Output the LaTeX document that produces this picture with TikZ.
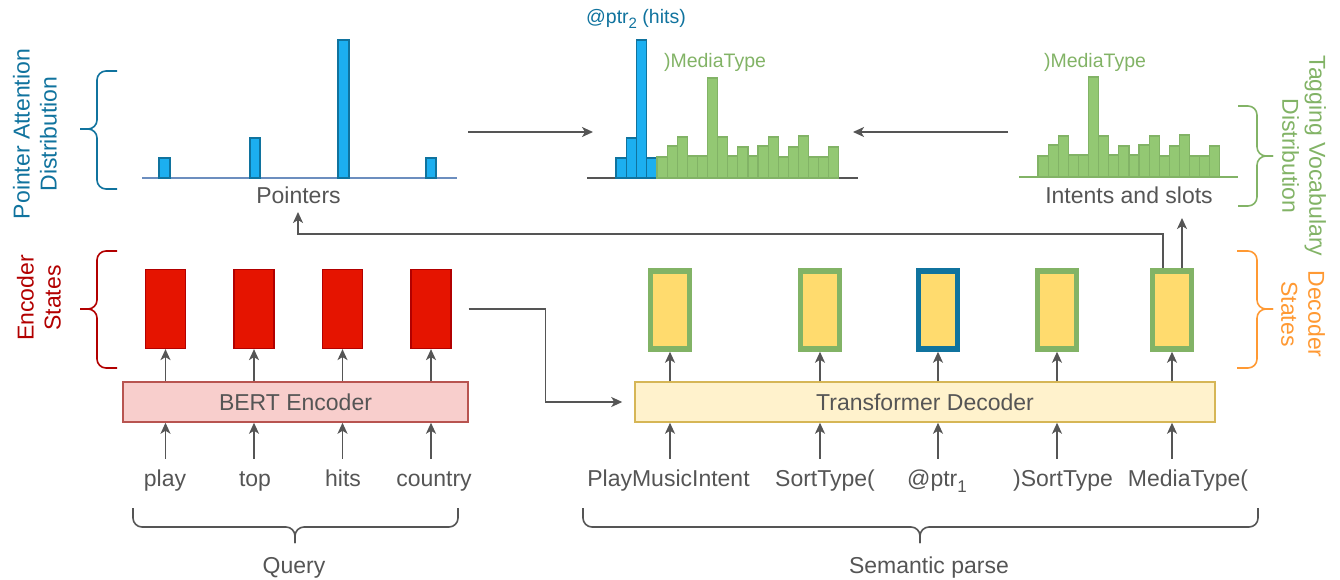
\documentclass[tikz,border=0pt]{standalone}
\usepackage{fontspec}
\setmainfont{Liberation Sans}
\usetikzlibrary{arrows.meta}
\definecolor{txt}{HTML}{555555}
\definecolor{ptrc}{HTML}{10739E}
\definecolor{barf}{HTML}{1CAFF0}
\definecolor{gr}{HTML}{82B366}
\definecolor{grf}{HTML}{93C873}
\definecolor{encf}{HTML}{E51400}
\definecolor{encb}{HTML}{B20000}
\definecolor{bertf}{HTML}{F8CECC}
\definecolor{bertb}{HTML}{B85450}
\definecolor{decf}{HTML}{FFF2CC}
\definecolor{decb}{HTML}{D6B656}
\definecolor{yel}{HTML}{FFDB6E}
\definecolor{orc}{HTML}{FF9933}
\definecolor{blinec}{HTML}{6C8EBF}
\newcommand{\mysub}[2]{\raisebox{-#2}{\fontsize{#1}{#1}\selectfont}}
\begin{document}
\begin{tikzpicture}[x=1pt,y=-1pt,
  lbl/.style={font=\fontsize{23}{27}\selectfont, text=txt, inner sep=0pt, anchor=base},
  word/.style={lbl, text height=17pt, text depth=5pt, inner ysep=10pt},
  side/.style={font=\fontsize{23}{27}\selectfont, align=center, inner sep=0pt},
  small/.style={font=\fontsize{19.5}{23}\selectfont, inner sep=0pt, anchor=base},
  arr/.style={draw=txt, line width=1.6pt, -{Stealth[length=11pt,width=10pt,inset=3pt]}},
  brace/.style={line width=1.6pt, rounded corners=9pt},
  enc/.style={draw=encb, fill=encf, line width=1.2pt, minimum width=40pt, minimum height=79pt, inner sep=0pt},
  dst/.style={draw=gr, fill=yel, line width=5.5pt, minimum width=39pt, minimum height=78pt, inner sep=0pt},
  bbar/.style={draw=ptrc, fill=barf, line width=1.2pt},
  gbar/.style={draw=gr, fill=grf, line width=1.2pt},
  bigbox/.style={font=\fontsize{23}{27}\selectfont, text=txt, line width=1.5pt, minimum height=40pt, inner sep=0pt}
]
\useasboundingbox (0,0) rectangle (1340,580);

% ---------- top-left: pointer attention distribution ----------
\draw[line width=1.5pt, blinec] (142,178) -- (457,178);
\draw[bbar] (159,178) rectangle (170,158);
\draw[bbar] (250,178) rectangle (260,138);
\draw[bbar] (338,178) rectangle (349,40);
\draw[bbar] (426,178) rectangle (436,158);
\node[lbl] (ptr) at (298.5,204) {Pointers};

% ---------- middle: combined distribution ----------
\draw[line width=1.5pt, txt] (587,178) -- (858,178);
\foreach \h [count=\i from 0] in {158,138,40,158}
  \draw[bbar] ({616+\i*10.2},178) rectangle ({616+(\i+1)*10.2},\h);
\foreach \h [count=\i from 0] in {157,146,137,156,156,78,137,156,147,156,146,137,157,147,136,157,157,147}
  \draw[gbar] ({657+\i*10.1},178) rectangle ({657+(\i+1)*10.1},\h);
\node[small, text=ptrc] (ptrlbl) at (636,24) {@ptr\raisebox{-5pt}{\fontsize{15}{15}\selectfont 2} (hits)};
\node[small, text=gr] (mtlbl1) at (715,68) {)MediaType};

% ---------- right: tagging vocabulary distribution ----------
\draw[line width=1.5pt, gr] (1019,177) -- (1238,177);
\foreach \h [count=\i from 0] in {157,146,137,156,156,78,137,156,147,156,146,137,157,147,136,157,157,147}
  \draw[gbar] ({1038+\i*10.1},177) rectangle ({1038+(\i+1)*10.1},\h-1);
\node[small, text=gr] (mtlbl2) at (1095,68) {)MediaType};
\node[lbl] (ints) at (1129,204) {Intents and slots};

% arrows between distributions
\coordinate (h1a) at (468,132);
\coordinate (h1b) at (593,132);
\coordinate (h2a) at (1008,132);
\coordinate (h2b) at (853,132);
\draw[arr] (h1a) -- (h1b);
\draw[arr] (h2a) -- (h2b);

% ---------- side labels and braces ----------
\node[side, text=ptrc, rotate=90] (lblptr) at (35,134) {Pointer Attention\\Distribution};
\draw[brace, draw=ptrc] (117,71) -| (97,129) -- (80,129);
\draw[brace, draw=ptrc] (80,129) -- (97,129) |- (117,189);

\node[side, text=encb, rotate=90] (lblenc) at (39,298) {Encoder\\States};
\draw[brace, draw=encb] (117,251) -| (97,309) -- (80,309);
\draw[brace, draw=encb] (80,309) -- (97,309) |- (117,368);

\node[side, text=gr, rotate=-90] (lbltag) at (1304,156) {Tagging Vocabulary\\Distribution};
\draw[brace, draw=gr] (1238,106) -| (1257,156) -- (1273,156);
\draw[brace, draw=gr] (1273,156) -- (1257,156) |- (1238,206);

\node[side, text=orc, rotate=-90] (lbldec) at (1303,314) {Decoder\\States};
\draw[brace, draw=orc] (1237,251) -| (1257,309) -- (1273,309);
\draw[brace, draw=orc] (1273,309) -- (1257,309) |- (1237,368);

% ---------- encoder ----------
\node[enc] (e1) at (165.5,309) {};
\node[enc] (e2) at (254,309) {};
\node[enc] (e3) at (342.5,309) {};
\node[enc] (e4) at (431,309) {};
\node[bigbox, draw=bertb, fill=bertf, minimum width=345pt] (bert) at (295.5,402) {BERT Encoder};
\foreach \e in {e1,e2,e3,e4}
  \draw[arr] (bert.north -| \e) -- (\e.south);

\node[word] (w1) at (165,486) {play};
\node[word] (w2) at (255,486) {top};
\node[word] (w3) at (343,486) {hits};
\node[word] (w4) at (434,486) {country};
\draw[arr] (w1.north -| e1) -- (e1 |- bert.south);
\draw[arr] (w2.north -| e2) -- (e2 |- bert.south);
\draw[arr] (w3.north -| e3) -- (e3 |- bert.south);
\draw[arr] (w4.north -| e4) -- (e4 |- bert.south);

% ---------- decoder ----------
\node[dst] (d1) at (670,310) {};
\node[dst] (d2) at (820,310) {};
\node[dst, draw=ptrc] (d3) at (938,310) {};
\node[dst] (d4) at (1057,310) {};
\node[dst] (d5) at (1172,310) {};
\node[bigbox, draw=decb, fill=decf, minimum width=580pt] (dec) at (925,402) {Transformer Decoder};
\foreach \d in {d1,d2,d3,d4,d5}
  \draw[arr] (dec.north -| \d) -- (\d.south);

\node[word] (v1) at (668.5,486) {PlayMusicIntent};
\node[word] (v2) at (825,486) {SortType(};
\node[word] (v3) at (937,486) {@ptr\raisebox{-6pt}{\fontsize{17}{17}\selectfont 1}};
\node[word] (v4) at (1063,486) {)SortType};
\node[word] (v5) at (1188,486) {MediaType(};
\draw[arr] (v1.north -| d1) -- (d1 |- dec.south);
\draw[arr] (v2.north -| d2) -- (d2 |- dec.south);
\draw[arr] (v3.north -| d3) -- (d3 |- dec.south);
\draw[arr] (v4.north -| d4) -- (d4 |- dec.south);
\draw[arr] (v5.north -| d5) -- (d5 |- dec.south);

% encoder -> decoder
\draw[arr] ([xshift=17pt]e4.east) -- ++(77,0) |- ([xshift=-12pt]dec.west);

% decoder -> pointers / intents
\coordinate (ptrtip) at (298,212);
\coordinate (inttip) at (1182,218);
\draw[arr] ([xshift=-9pt]d5.north) -- ++(0,-34) -| (ptrtip);
\draw[arr] ([xshift=10pt]d5.north) -- (inttip);

% ---------- bottom braces ----------
\draw[brace, draw=txt] (133,508) |- (295,527) -- (295,543);
\draw[brace, draw=txt] (295,543) -- (295,527) -| (458,508);
\node[lbl] (qry) at (294,573) {Query};

\draw[brace, draw=txt] (583,508) |- (920,527) -- (920,543);
\draw[brace, draw=txt] (920,543) -- (920,527) -| (1258,508);
\node[lbl] (sem) at (929,573) {Semantic parse};
\end{tikzpicture}
\end{document}
